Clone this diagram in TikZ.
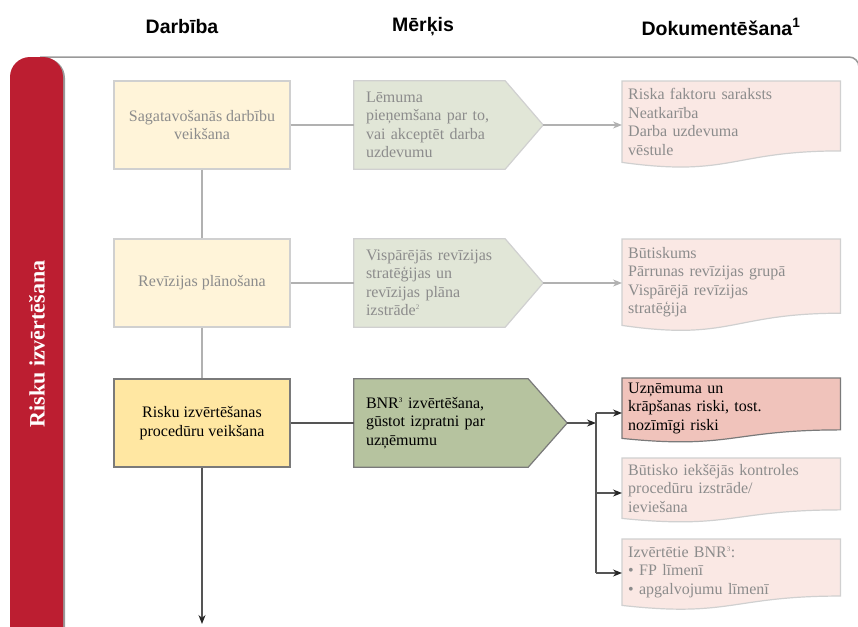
\documentclass[tikz,border=0pt]{standalone}
\usepackage{fontspec}
\setmainfont{Liberation Serif}
\newfontfamily\headfont{Liberation Sans}
\usetikzlibrary{arrows.meta,calc,backgrounds}

\definecolor{riskred}{HTML}{BC1E31}
\definecolor{actcol}{HTML}{FFF4D9}
\definecolor{acthicol}{HTML}{FFE7A2}
\definecolor{goalcol}{HTML}{E1E6D7}
\definecolor{goalhicol}{HTML}{B6C39F}
\definecolor{doccol}{HTML}{FAE8E4}
\definecolor{dochicol}{HTML}{F0C3BB}
\definecolor{txtfaint}{HTML}{8C8C8C}
\definecolor{edgefaint}{HTML}{D0D0D0}
\definecolor{edgemain}{HTML}{7A7A7A}

\newcommand{\fnmark}[1]{\textsuperscript{\fontsize{7}{7}\selectfont #1}}

\tikzset{
  every node/.style={font=\fontsize{16}{18.5}\selectfont},
  head/.style={font=\headfont\bfseries\fontsize{19.5}{22}\selectfont},
  actbox/.style={rectangle, draw=edgefaint, fill=actcol, text=txtfaint, line width=1.2pt,
    minimum width=176pt, minimum height=88pt, align=center},
  actboxhi/.style={actbox, draw=edgemain, fill=acthicol, text=black},
  goalbox/.style={rectangle, inner xsep=12pt, minimum height=88pt, text width=127pt,
    align=left, text=txtfaint},
  goalboxhi/.style={goalbox, text width=150pt, text=black},
  docbox/.style={rectangle, anchor=north west, inner xsep=6pt, text width=206pt,
    align=left, text=txtfaint},
  docboxhi/.style={docbox, text=black},
  lnfaint/.style={draw=edgefaint!85!black, line width=1.2pt},
  lnmain/.style={draw=edgemain!70!black, line width=1.2pt,
    >={Stealth[length=9pt,width=7pt,color=black!85]}}
}

\begin{document}
\begin{tikzpicture}[x=1pt, y=-1pt, >={Stealth[length=9pt,width=7pt]}]
\useasboundingbox (0,0) rectangle (858,626);
\clip (0,0) rectangle (858,626);

\draw[gray!80, line width=1.5pt, rounded corners=10pt] (40,57) -- (859,57) -- (859,660);
\fill[black!40, rounded corners=20pt] (12,58) rectangle (65,680);
\fill[riskred, rounded corners=20pt] (10,57) rectangle (63,680);
\node[rotate=90, text=white, font=\bfseries\fontsize{22}{26}\selectfont] (lane) at (37,344) {Risku izvērtēšana};

\node[head] (hact) at (182,27) {Darbība};
\node[head] (hgoal) at (423,27) {Mērķis};
\node[head] (hdoc) at (721,27) {Dokumentēšana\textsuperscript{1}};

\node[actbox] (a) at (202,125) {Sagatavošanās darbību\\veikšana};
\node[actbox] (b) at (202,283) {Revīzijas plānošana};
\node[actboxhi] (c) at (202,423) {Risku izvērtēšanas\\procedūru veikšana};

\node[goalbox] (p1) at (429.5,125) {Lēmuma\\pieņemšana par to,\\vai akceptēt darba\\uzdevumu};
\node[goalbox] (p2) at (429.5,283) {Vispārējās revīzijas\\stratēģijas un\\revīzijas plāna\\izstrāde\fnmark{2}};
\node[goalboxhi] (p3) at (441,423) {BNR\fnmark{3} izvērtēšana,\\gūstot izpratni par\\uzņēmumu};
\coordinate (p1-tip) at ([xshift=38pt]p1.east);
\coordinate (p2-tip) at ([xshift=38pt]p2.east);
\coordinate (p3-tip) at ([xshift=39pt]p3.east);

\node[docbox, minimum height=81pt] (d1) at (622,81) {Riska faktoru saraksts\\Neatkarība\\Darba uzdevuma\\vēstule};
\node[docbox, minimum height=86pt] (d2) at (622,239) {Būtiskums\\Pārrunas revīzijas grupā\\Vispārējā revīzijas\\stratēģija};
\node[docboxhi, minimum height=60pt] (d4) at (622,378) {Uzņēmuma un\\krāpšanas riski, tost.\\nozīmīgi riski};
\node[docbox, minimum height=60pt] (d5) at (622,458) {Būtisko iekšējās kontroles\\procedūru izstrāde/\\ieviešana};
\node[docbox, minimum height=66pt] (d6) at (622,539) {Izvērtētie BNR\fnmark{3}:\\\textbullet{} FP līmenī\\\textbullet{} apgalvojumu līmenī};

\begin{scope}[on background layer]
\foreach \n/\f/\d in {p1/goalcol/edgefaint, p2/goalcol/edgefaint, p3/goalhicol/edgemain}
  \draw[fill=\f, draw=\d, line width=1.2pt] (\n.north west) -- (\n.north east) -- (\n-tip)
    -- (\n.south east) -- (\n.south west) -- cycle;
\foreach \n/\f/\d in {d1/doccol/edgefaint, d2/doccol/edgefaint, d4/dochicol/edgemain,
    d5/doccol/edgefaint, d6/doccol/edgefaint}
  \draw[fill=\f, draw=\d, line width=1.2pt] (\n.south west) -- (\n.north west) -- (\n.north east)
    -- ($(\n.north east)!0.859!(\n.south east)$)
    .. controls ($(\n.north)!0.859!(\n.south)$) and ($(\n.north)!1.185!(\n.south)$) .. (\n.south west)
    -- cycle;
\end{scope}

\coordinate (c-end) at (202,624);
\coordinate (fork) at (596,423);
\coordinate (fork-top) at (596,413);
\coordinate (fork-mid) at (596,493);
\coordinate (fork-bot) at (596,573);

\draw[lnfaint] (a) -- (p1);
\draw[lnfaint] (b) -- (p2);
\draw[lnmain] (c) -- (p3);
\draw[lnfaint] (a) -- (b);
\draw[lnfaint] (b) -- (c);
\draw[lnmain, ->] (c) -- (c-end);
\draw[lnfaint, ->] (p1-tip) -- (p1-tip -| d1.west);
\draw[lnfaint, ->] (p2-tip) -- (p2-tip -| d2.west);
\draw[lnmain, ->] (p3-tip) -- (fork);
\draw[lnmain] (fork-top) -- (fork-bot);
\draw[lnmain, ->] (fork-top) -- (fork-top -| d4.west);
\draw[lnmain, ->] (fork-mid) -- (fork-mid -| d5.west);
\draw[lnmain, ->] (fork-bot) -- (fork-bot -| d6.west);
\end{tikzpicture}
\end{document}
